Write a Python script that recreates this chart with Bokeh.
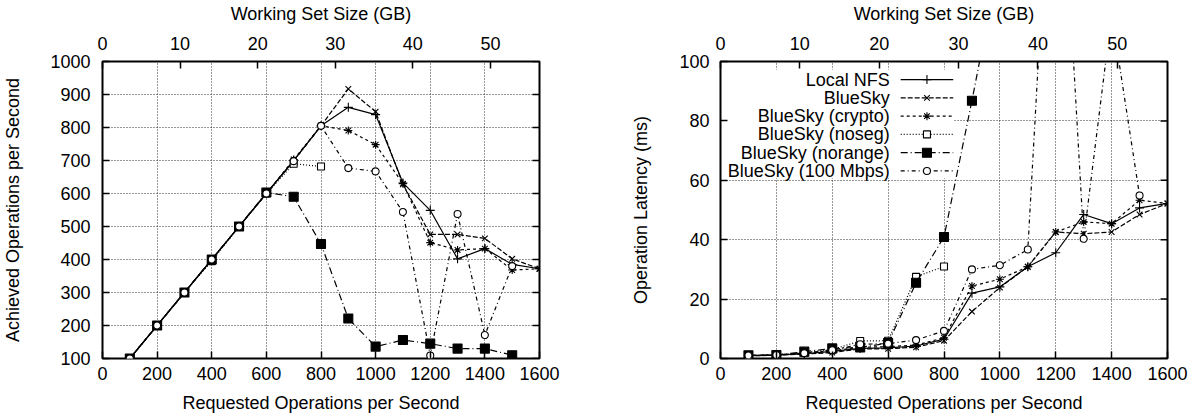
from bokeh.plotting import figure
from bokeh.models import LinearAxis, Range1d, FixedTicker
from bokeh.layouts import row
from bokeh.embed import file_html
from bokeh.resources import INLINE
from bokeh.core.properties import value

# ---------------- data ----------------
requested = [100, 200, 300, 400, 500, 600, 700, 800, 900, 1000, 1100, 1200, 1300, 1400, 1500, 1600]
series_names = ["Local NFS", "BlueSky", "BlueSky (crypto)", "BlueSky (noseg)",
                "BlueSky (norange)", "BlueSky (100 Mbps)"]

# achieved operations per second (left chart)
ach_local   = [100, 200, 300, 400, 500, 600, 700, 805, 861, 839, 632, 549, 402, 433, 385, 372]
ach_bluesky = [100, 200, 300, 400, 500, 600, 700, 805, 917, 848, 628, 476, 476, 464, 402, 372]
ach_crypto  = [100, 200, 300, 400, 500, 600, 703, 805, 791, 748, 630, 451, 429, 433, 368, 372]
ach_noseg   = [100, 200, 300, 395, 500, 600, 690, 682]
ach_norange = [100, 200, 300, 400, 500, 603, 590, 447, 221, 136, 156, 145, 130, 130, 110]
ach_100mbps = [100, 200, 300, 400, 500, 600, 698, 805, 677, 667, 544, 109, 538, 171, 380]

# operation latency in ms (right chart)
lat_local   = [1.0, 1.1, 1.6, 2.4, 3.4, 3.6, 4.2, 6.5, 22.0, 24.1, 30.9, 35.6, 48.5, 45.4, 50.7, 52.2]
lat_bluesky = [0.9, 1.1, 1.5, 2.0, 3.2, 3.3, 3.8, 6.0, 15.8, 23.9, 30.9, 42.6, 42.0, 42.6, 48.5, 52.2]
lat_crypto  = [1.0, 1.2, 1.8, 2.6, 3.8, 4.0, 4.5, 7.0, 24.4, 26.7, 30.9, 42.6, 46.0, 45.4, 53.3, 52.2]
lat_noseg   = [1.0, 1.2, 2.0, 3.0, 5.9, 6.0, 27.5, 31.0]
lat_norange = [1.1, 1.2, 2.3, 3.4, 3.7, 5.2, 25.5, 40.9, 86.8, 135.0]
lat_100mbps = [1.0, 1.2, 1.8, 2.8, 4.8, 5.0, 6.2, 9.3, 30.0, 31.4, 36.7, 205.0, 40.3, 116.0, 54.9]

x_ticks = [0, 200, 400, 600, 800, 1000, 1200, 1400, 1600]
ach_ticks = [100, 200, 300, 400, 500, 600, 700, 800, 900, 1000]
lat_ticks = [0, 20, 40, 60, 80, 100]
ws_ticks = [0, 10, 20, 30, 40, 50]
GB_PER_OP = 0.0352   # working set size (GB) per requested op/s

achieved = [ach_local, ach_bluesky, ach_crypto, ach_noseg, ach_norange, ach_100mbps]
latency = [lat_local, lat_bluesky, lat_crypto, lat_noseg, lat_norange, lat_100mbps]

# ---------------- styles ----------------
FONT = "Liberation Sans"
FS = "18px"
TICK_LEN = 7
FRAME_H = 298
styles = [
    dict(dash="solid",    marker="cross",    size=9, fill=None),
    dict(dash="5 2",      marker="x",        size=8, fill=None),
    dict(dash="3 3",      marker="asterisk", size=8, fill=None),
    dict(dash="1 2",      marker="square",   size=7, fill="white"),
    dict(dash="7 3 1 3",  marker="square",   size=9, fill="black"),
    dict(dash="4 3 1 3",  marker="circle",   size=7, fill="white"),
]


def style_axis(ax, ticks, label_standoff, title_standoff):
    ax.ticker = FixedTicker(ticks=ticks)
    ax.minor_tick_line_color = None
    ax.major_tick_in = TICK_LEN
    ax.major_tick_out = 0
    ax.major_tick_line_color = "black"
    ax.major_tick_line_width = 1.5
    ax.axis_line_color = None
    ax.major_label_text_font = FONT
    ax.major_label_text_font_size = FS
    ax.major_label_text_color = "black"
    ax.major_label_standoff = label_standoff
    ax.axis_label_text_font = FONT
    ax.axis_label_text_font_size = FS
    ax.axis_label_text_font_style = "normal"
    ax.axis_label_text_color = "black"
    ax.axis_label_standoff = title_standoff


def make_fig(width, border_left, frame_w, y0, y1, yticks, ylabel, y_label_standoff, y_title_standoff):
    p = figure(width=width, height=417, x_range=Range1d(0, 1600), y_range=Range1d(y0, y1),
               output_backend="svg", toolbar_location=None,
               min_border_left=border_left, min_border_right=width - border_left - frame_w,
               min_border_top=60, min_border_bottom=417 - 60 - FRAME_H)
    p.background_fill_color = "white"
    p.border_fill_color = "white"
    p.outline_line_color = "black"
    p.outline_line_width = 2
    p.extra_x_ranges = {"ws": Range1d(0, 1600 * GB_PER_OP)}

    bottom = p.below[0]
    left = p.left[0]
    bottom.axis_label = "Requested Operations per Second"
    left.axis_label = ylabel
    style_axis(bottom, x_ticks, 8, 10)
    style_axis(left, yticks, y_label_standoff, y_title_standoff)

    top = LinearAxis(x_range_name="ws", axis_label="Working Set Size (GB)")
    style_axis(top, ws_ticks, 12, 10)
    p.add_layout(top, "above")

    p.xgrid.ticker = FixedTicker(ticks=x_ticks)
    p.ygrid.ticker = FixedTicker(ticks=yticks)
    for g in (p.xgrid, p.ygrid):
        g.grid_line_color = "#1a1a1a"
        g.grid_line_alpha = 0.9
        g.grid_line_dash = "1 2"
        g.grid_line_width = 1

    # mirrored y ticks on the right border
    tick_units = TICK_LEN * 1600 / frame_w
    p.segment(x0=[1600 - tick_units] * len(yticks), y0=yticks, x1=[1600] * len(yticks), y1=yticks,
              line_color="black", line_width=1.5)
    return p


def draw_series(p, data):
    for vals, st in zip(data, styles):
        xs = requested[:len(vals)]
        p.line(xs, vals, line_color="black", line_width=1.2, line_dash=st["dash"])
        p.scatter(xs, vals, marker=st["marker"], size=st["size"], line_color="black",
                  line_width=1.1, fill_color=st["fill"])


# ---------------- left chart ----------------
p1 = make_fig(600, 102, 437, 100, 1000, ach_ticks, "Achieved Operations per Second", 12, 24)
draw_series(p1, achieved)

# ---------------- right chart ----------------
p2 = make_fig(596, 120, 447, 0, 100, lat_ticks, "Operation Latency (ms)", 11, 25)

# opaque key area (hides the grid under the key)
p2.quad(left=[10], right=[836], bottom=[60.7], top=[97.2], fill_color="white", line_color=None)

draw_series(p2, latency)

# key: text right-aligned, sample line to its right
key_top = 93.9
key_step = 6.15
text_x = 606
line_x0, line_x1 = 645, 833
mark_x = 739
key_y = [key_top - i * key_step for i in range(len(series_names))]
p2.text(x=[text_x] * len(series_names), y=key_y, text=series_names,
        text_align="right", text_baseline="middle", text_color="black",
        text_font=value(FONT), text_font_size=value(FS))
for name, ky, st in zip(series_names, key_y, styles):
    p2.line([line_x0, line_x1], [ky, ky], line_color="black", line_width=1.2, line_dash=st["dash"])
    p2.scatter([mark_x], [ky], marker=st["marker"], size=st["size"], line_color="black",
               line_width=1.1, fill_color=st["fill"])

layout = row(p1, p2)
open("out.html", "w").write(file_html(layout, INLINE))
